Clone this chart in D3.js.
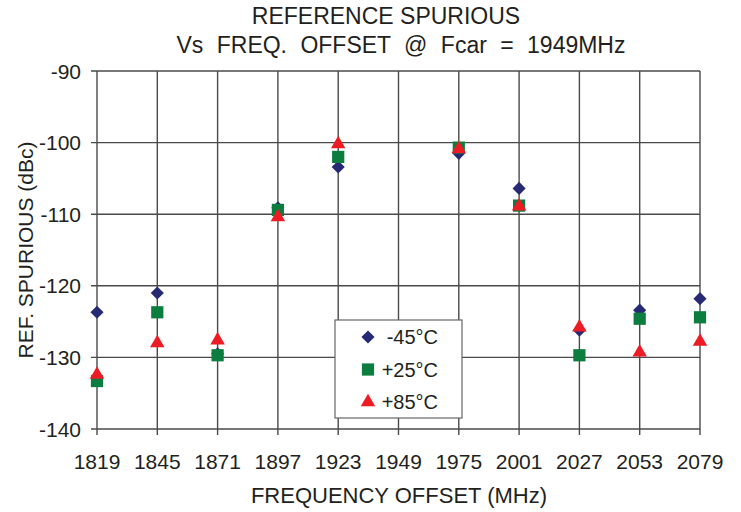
<!DOCTYPE html>
<html>
<head>
<meta charset="utf-8">
<script src="https://cdn.jsdelivr.net/npm/d3@7"></script>
<style>
  body { margin: 0; background: #fff; }
  text { font-family: 'Liberation Sans', Arial, sans-serif; fill: #231f20; }
</style>
</head>
<body>
<svg id="viz"></svg>
<script>
const width = 741
const height = 512

// chart data
const freqs = ['1819', '1845', '1871', '1897', '1923', '1949', '1975', '2001', '2027', '2053', '2079']
const minus45 = [-123.7, -121.0, -129.5, -109.1, -103.4, null, -101.5, -106.4, -126.2, -123.4, -121.8]
const plus25 = [-133.3, -123.7, -129.7, -109.4, -102.0, null, -100.7, -108.8, -129.7, -124.6, -124.4]
const plus85 = [-132.4, -128.0, -127.6, -110.4, -100.2, null, -100.9, -108.9, -125.8, -129.3, -127.8]
const yTicks = [-90, -100, -110, -120, -130, -140]
const seriesNames = ['-45°C', '+25°C', '+85°C']

const margin = { top: 71, left: 97, right: 41, bottom: 83 }

const svg = d3.select('#viz').attr('width', width).attr('height', height)

const x = d3
  .scalePoint()
  .domain(freqs)
  .range([margin.left, width - margin.right])

const y = d3
  .scaleLinear()
  .domain([-140, -90])
  .range([height - margin.bottom, margin.top])

// grid
svg
  .append('g')
  .selectAll('line')
  .data(freqs)
  .join('line')
  .attr('x1', (d) => x(d))
  .attr('x2', (d) => x(d))
  .attr('y1', y(-90))
  .attr('y2', y(-140) + 6)
  .attr('stroke', '#4a4a4a')
  .attr('stroke-width', 1.4)

svg
  .append('g')
  .selectAll('line')
  .data(yTicks)
  .join('line')
  .attr('x1', margin.left - 6)
  .attr('x2', width - margin.right)
  .attr('y1', (d) => y(d))
  .attr('y2', (d) => y(d))
  .attr('stroke', '#4a4a4a')
  .attr('stroke-width', 1.4)

// tick labels
svg
  .append('g')
  .selectAll('text')
  .data(yTicks)
  .join('text')
  .attr('x', margin.left - 16)
  .attr('y', (d) => y(d))
  .attr('dy', '0.36em')
  .attr('text-anchor', 'end')
  .attr('font-size', 21)
  .text((d) => d)

svg
  .append('g')
  .selectAll('text')
  .data(freqs)
  .join('text')
  .attr('x', (d) => x(d))
  .attr('y', 469)
  .attr('text-anchor', 'middle')
  .attr('font-size', 21)
  .text((d) => d)

// titles
svg
  .append('text')
  .attr('x', 386)
  .attr('y', 24)
  .attr('text-anchor', 'middle')
  .attr('font-size', 23)
  .text('REFERENCE SPURIOUS')

svg
  .append('text')
  .attr('x', 401)
  .attr('y', 53)
  .attr('text-anchor', 'middle')
  .attr('font-size', 23)
  .attr('word-spacing', 7)
  .text('Vs FREQ. OFFSET @ Fcar = 1949MHz')

svg
  .append('text')
  .attr('x', 399)
  .attr('y', 503)
  .attr('text-anchor', 'middle')
  .attr('font-size', 22)
  .text('FREQUENCY OFFSET (MHz)')

svg
  .append('text')
  .attr('transform', 'translate(33, 250) rotate(-90)')
  .attr('text-anchor', 'middle')
  .attr('font-size', 21)
  .text('REF. SPURIOUS (dBc)')

// markers
const styles = [
  { data: minus45, symbol: d3.symbolDiamond2, size: 110, color: '#262a75' },
  { data: plus25, symbol: d3.symbolSquare2, size: 190, color: '#0b7d3e' },
  { data: plus85, symbol: d3.symbolTriangle2, size: 150, color: '#ed1c24' },
]

styles.forEach((s) => {
  const pts = freqs
    .map((f, i) => ({ f: f, v: s.data[i] }))
    .filter((d) => d.v !== null)
  svg
    .append('g')
    .selectAll('path')
    .data(pts)
    .join('path')
    .attr('transform', (d) => `translate(${x(d.f)}, ${y(d.v)})`)
    .attr('d', d3.symbol().type(s.symbol).size(s.size))
    .attr('fill', s.color)
})

// legend
const legend = svg.append('g')
legend
  .append('rect')
  .attr('x', 335)
  .attr('y', 320)
  .attr('width', 127)
  .attr('height', 98)
  .attr('fill', '#fff')
  .attr('stroke', '#666')
  .attr('stroke-width', 1.2)

styles.forEach((s, i) => {
  const ly = 337 + i * 32.5
  legend
    .append('path')
    .attr('transform', `translate(368, ${ly})`)
    .attr('d', d3.symbol().type(s.symbol).size(s.size))
    .attr('fill', s.color)
  legend
    .append('text')
    .attr('x', 438)
    .attr('y', ly)
    .attr('dy', '0.36em')
    .attr('text-anchor', 'end')
    .attr('font-size', 20)
    .text(seriesNames[i])
})
</script>
</body>
</html>
